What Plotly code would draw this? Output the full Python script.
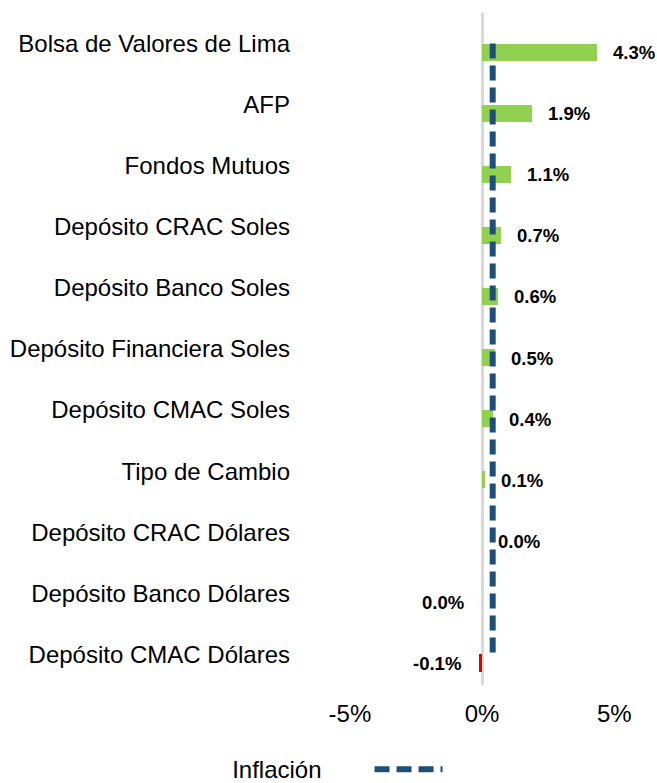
import plotly.graph_objects as go

categories = [
    "Bolsa de Valores de Lima", "AFP", "Fondos Mutuos", "Depósito CRAC Soles",
    "Depósito Banco Soles", "Depósito Financiera Soles", "Depósito CMAC Soles",
    "Tipo de Cambio", "Depósito CRAC Dólares", "Depósito Banco Dólares",
    "Depósito CMAC Dólares",
]
returns = [4.35, 1.9, 1.1, 0.7, 0.6, 0.5, 0.4, 0.1, 0.0, 0.0, -0.1]
label_sides = ["right"] * 9 + ["left", "left"]
inflation = [0.4] * len(categories)
tick_vals = [-5, 0, 5]
tick_text = ["-5%", "0%", "5%"]

FONT = "Liberation Sans, Arial, sans-serif"
bar_colors = ["#92d050" if v >= 0 else "#e00000" for v in returns]

fig = go.Figure()
fig.add_trace(go.Bar(
    y=categories, x=returns, orientation="h",
    marker=dict(color=bar_colors, line=dict(width=0)),
    width=0.28, offset=0, showlegend=False, hoverinfo="skip",
))
fig.add_trace(go.Scatter(
    y=categories, x=inflation, mode="lines", name="",
    line=dict(color="#1f4e79", width=6, dash="15px,7px"),
))

for c, v, side in zip(categories, returns, label_sides):
    txt = f"{round(v, 1) + 0.0:.1f}%"
    pos = side == "right"
    fig.add_annotation(
        x=v, y=c, text=f"<b>{txt}</b>", showarrow=False,
        xanchor="left" if pos else "right",
        xshift=14 if pos else -16, yshift=-9,
        font=dict(family=FONT, size=18.5, color="#000000"),
    )

fig.update_layout(
    width=657, height=783,
    margin=dict(l=297, r=3, t=13, b=98, autoexpand=False),
    paper_bgcolor="white", plot_bgcolor="white",
    font=dict(family=FONT, size=24, color="#000000"),
    bargap=0,
    xaxis=dict(
        range=[-7, 6.5], tickvals=tick_vals, ticktext=tick_text,
        showgrid=False, zeroline=True, zerolinecolor="#d9d9d9", zerolinewidth=3,
        showline=False, ticks="", ticklabelstandoff=12,
        tickfont=dict(family=FONT, size=24, color="#000000"),
    ),
    yaxis=dict(
        range=[10.5, -0.5], showgrid=False, zeroline=False, showline=False,
        ticks="", tickfont=dict(family=FONT, size=24, color="#000000"),
        ticklabelstandoff=6,
    ),
    legend=dict(
        orientation="h", xref="container", x=0.52, xanchor="center",
        yref="paper", y=-0.126, yanchor="middle",
        title=dict(text="Inflación" + "\u00a0" * 6, side="left",
                   font=dict(family=FONT, size=24, color="#000000")),
        itemwidth=68,
        font=dict(family=FONT, size=24),
    ),
    showlegend=True,
)

fig.write_html("out.html", config={"displayModeBar": False},
               post_script="document.body.style.margin='0px';")
